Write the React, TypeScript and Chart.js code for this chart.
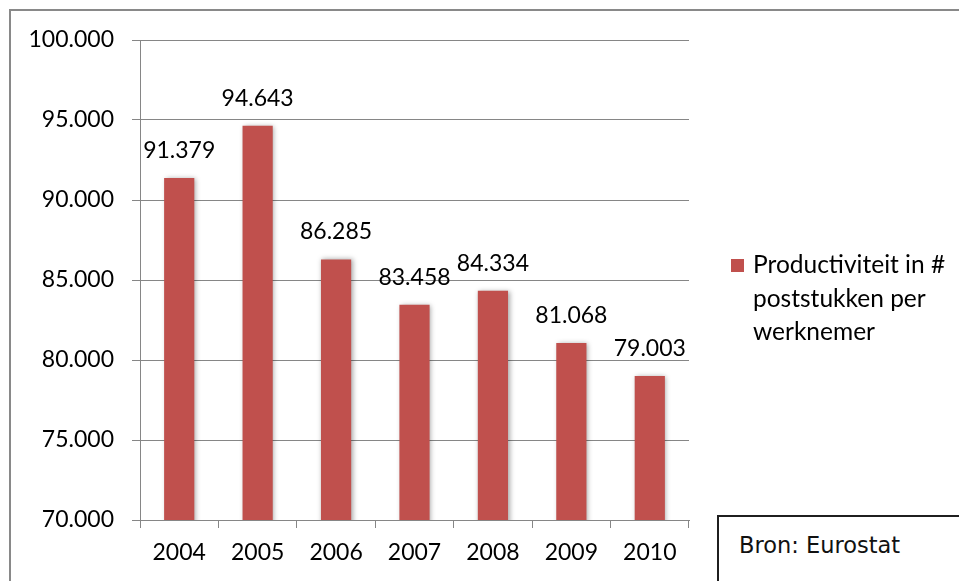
import React, { useEffect, useRef } from 'react';
import { Chart, registerables } from 'chart.js';

Chart.register(...registerables);

const years: string[] = ['2004', '2005', '2006', '2007', '2008', '2009', '2010'];
const productivity: number[] = [91379, 94643, 86285, 83458, 84334, 81068, 79003];
const legendLines: string[] = ['Productiviteit in #', 'poststukken per', 'werknemer'];
const yMin = 70000;
const yMax = 100000;
const yStep = 5000;
const sourceText = 'Bron: Eurostat';

const BAR_COLOR = '#C0504D';
const GRID = '#868686';
const FONT = 'Lato';

const fmt = (v: number): string =>
  String(Math.round(v)).replace(/\B(?=(\d{3})+(?!\d))/g, '.');

const decorPlugin = {
  id: 'decor',
  beforeDraw(chart: any) {
    const ctx = chart.ctx;
    ctx.save();
    ctx.fillStyle = '#ffffff';
    ctx.fillRect(0, 0, chart.width, chart.height);
    ctx.strokeStyle = '#898989';
    ctx.lineWidth = 2;
    ctx.beginPath();
    ctx.moveTo(10, chart.height + 5);
    ctx.lineTo(10, 10);
    ctx.lineTo(chart.width + 5, 10);
    ctx.stroke();
    ctx.restore();
  },
  beforeDatasetsDraw(chart: any) {
    const ctx = chart.ctx;
    ctx.save();
    ctx.shadowColor = 'rgba(0,0,0,0.35)';
    ctx.shadowBlur = 5;
    ctx.shadowOffsetX = 1.5;
    ctx.shadowOffsetY = 0;
  },
  afterDatasetsDraw(chart: any) {
    const ctx = chart.ctx;
    ctx.restore();
    ctx.save();
    ctx.font = `23px ${FONT}`;
    ctx.fillStyle = '#000000';
    ctx.textAlign = 'center';
    ctx.textBaseline = 'alphabetic';
    const meta = chart.getDatasetMeta(0);
    meta.data.forEach((bar: any, i: number) => {
      ctx.fillText(fmt(productivity[i]), bar.x, bar.y - 20);
    });
    ctx.restore();
  },
  afterDraw(chart: any) {
    const ctx = chart.ctx;
    const area = chart.chartArea;
    ctx.save();
    const x0 = area.right + 42;
    const yTop = 259;
    ctx.fillStyle = BAR_COLOR;
    ctx.fillRect(x0, yTop, 13, 13);
    ctx.fillStyle = '#000000';
    ctx.font = `24.5px ${FONT}`;
    ctx.textAlign = 'left';
    ctx.textBaseline = 'alphabetic';
    legendLines.forEach((line, i) => {
      ctx.fillText(line, x0 + 22, 273 + i * 33.5);
    });
    ctx.restore();
  },
};

export default function App() {
  const canvasRef = useRef<HTMLCanvasElement | null>(null);

  useEffect(() => {
    const canvas = canvasRef.current;
    if (!canvas) return;
    const chart = new Chart(canvas, {
      type: 'bar',
      data: {
        labels: years,
        datasets: [
          {
            label: legendLines.join(' '),
            data: productivity,
            backgroundColor: BAR_COLOR,
            borderWidth: 0,
            categoryPercentage: 1,
            barPercentage: 0.385,
          },
        ],
      },
      options: {
        animation: false,
        responsive: false,
        devicePixelRatio: 1,
        layout: { padding: { left: 0, right: 270, top: 40, bottom: 0 } },
        plugins: {
          legend: { display: false },
          tooltip: { enabled: false },
          title: { display: false },
        },
        scales: {
          x: {
            grid: {
              display: true,
              drawOnChartArea: false,
              drawTicks: true,
              tickLength: 8,
              color: GRID,
              offset: true,
            },
            border: { display: true, color: GRID, width: 1 },
            ticks: {
              color: '#000000',
              font: { family: FONT, size: 23 },
              padding: 11,
              maxRotation: 0,
            },
            afterFit(scale: any) {
              scale.height = 61;
            },
          },
          y: {
            min: yMin,
            max: yMax,
            grid: {
              color: GRID,
              drawTicks: true,
              tickLength: 8,
            },
            border: { display: true, color: GRID, width: 1 },
            ticks: {
              stepSize: yStep,
              color: '#000000',
              font: { family: FONT, size: 23 },
              padding: 18,
              callback: (v: any) => fmt(Number(v)),
            },
            afterFit(scale: any) {
              scale.width = 140;
            },
          },
        },
      },
      plugins: [decorPlugin],
    });
    return () => chart.destroy();
  }, []);

  return (
    <div style={{ position: 'fixed', left: 0, top: 0, width: 959, height: 581, background: '#fff', overflow: 'hidden' }}>
      <canvas ref={canvasRef} width={959} height={581} style={{ display: 'block', width: 959, height: 581 }} />
      <div
        style={{
          position: 'absolute',
          left: 717,
          top: 515,
          width: 300,
          height: 120,
          border: '2px solid #1f1f1f',
          background: '#ffffff',
          boxSizing: 'border-box',
          fontFamily: '"DejaVu Sans", sans-serif',
          fontSize: 22.5,
          lineHeight: '26px',
          color: '#111',
          paddingLeft: 20,
          paddingTop: 15,
        }}
      >
        {sourceText}
      </div>
    </div>
  );
}
